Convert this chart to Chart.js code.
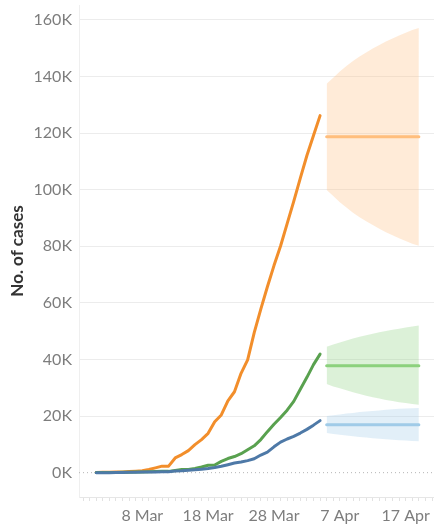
<!DOCTYPE html>
<html lang="en">
<head>
    <meta charset="UTF-8">
    <title>No. of cases</title>
    <script src="https://cdn.jsdelivr.net/npm/chart.js"></script>
    <style>
        html, body { margin: 0; padding: 0; background: #fff; }
        #wrap { width: 434px; height: 528px; }
    </style>
</head>
<body>
<div id="wrap"><canvas id="myChart"></canvas></div>
<script>
    // day 0 = 1 Mar, values in thousands of cases
    var firstDay = 0;
    var forecastStart = 35;
    var xMin = -2.61;
    var xMax = 51.3;

    var orange = [0.08, 0.12, 0.17, 0.22, 0.26, 0.37, 0.5, 0.67, 1.1, 1.7, 2.3, 2.3, 5.2, 6.4, 7.8, 9.9, 11.7, 13.9, 18.0, 20.4,
        25.4, 28.6, 35.1, 39.9, 49.5, 57.8, 65.7, 73.2, 80.1, 88.0, 95.9, 104.1, 112.1, 119.2, 126.2];
    var green = [0.04, 0.04, 0.05, 0.09, 0.12, 0.16, 0.21, 0.27, 0.32, 0.38, 0.46, 0.46, 0.8, 1.1, 1.1, 1.5, 2.0, 2.6, 2.7, 4.0,
        5.0, 5.7, 6.7, 8.1, 9.5, 11.7, 14.5, 17.1, 19.5, 22.1, 25.2, 29.5, 33.7, 38.2, 41.9];
    var blue = [0.0, 0.01, 0.01, 0.02, 0.05, 0.11, 0.17, 0.2, 0.24, 0.27, 0.31, 0.31, 0.56, 0.69, 0.89, 1.06, 1.24, 1.49, 1.8, 2.26,
        2.82, 3.4, 3.74, 4.27, 4.94, 6.24, 7.28, 9.13, 10.8, 11.9, 12.8, 14.0, 15.3, 16.8, 18.4];

    // forecast, 5 Apr .. 19 Apr
    var orangeMid = [118.7, 118.7, 118.7, 118.7, 118.7, 118.7, 118.7, 118.7, 118.7, 118.7, 118.7, 118.7, 118.7, 118.7, 118.7];
    var orangeHi = [137.5, 139.6, 141.8, 143.7, 145.5, 147.1, 148.5, 149.9, 151.2, 152.4, 153.5, 154.5, 155.5, 156.5, 157.2];
    var orangeLo = [99.9, 97.8, 95.6, 93.7, 91.9, 90.3, 88.9, 87.5, 86.2, 85.0, 83.9, 82.9, 81.9, 80.9, 80.2];
    var greenMid = [37.8, 37.8, 37.8, 37.8, 37.8, 37.8, 37.8, 37.8, 37.8, 37.8, 37.8, 37.8, 37.8, 37.8, 37.8];
    var greenHi = [44.5, 45.3, 46.0, 46.7, 47.4, 48.0, 48.6, 49.1, 49.6, 50.1, 50.5, 50.9, 51.3, 51.7, 52.0];
    var greenLo = [31.3, 30.5, 29.8, 29.1, 28.4, 27.8, 27.2, 26.7, 26.2, 25.7, 25.3, 24.9, 24.6, 24.3, 24.0];
    var blueMid = [16.9, 16.9, 16.9, 16.9, 16.9, 16.9, 16.9, 16.9, 16.9, 16.9, 16.9, 16.9, 16.9, 16.9, 16.9];
    var blueHi = [20.0, 20.3, 20.6, 20.9, 21.1, 21.4, 21.6, 21.8, 22.0, 22.2, 22.4, 22.6, 22.7, 22.8, 22.9];
    var blueLo = [14.0, 13.7, 13.4, 13.1, 12.9, 12.6, 12.4, 12.2, 12.0, 11.8, 11.6, 11.5, 11.4, 11.2, 11.1];

    var yTicks = [0, 20, 40, 60, 80, 100, 120, 140, 160];
    var xTickDays = [7, 17, 27, 37, 47];
    var xTickLabels = ['8 Mar', '18 Mar', '28 Mar', '7 Apr', '17 Apr'];

    function pts(values, start) {
        return values.map(function (v, i) {
            return {x: start + i, y: v};
        });
    }

    function line(data, color, order) {
        return {data: data, borderColor: color, borderWidth: 3, pointRadius: 0,
            fill: false, tension: 0, borderCapStyle: 'round', borderJoinStyle: 'round', order: order};
    }

    function bandTop(data, fillColor) {
        return {data: data, borderWidth: 0, borderColor: 'rgba(0,0,0,0)', pointRadius: 0,
            fill: '+1', backgroundColor: fillColor, tension: 0, order: 20};
    }

    function bandBottom(data) {
        return {data: data, borderWidth: 0, borderColor: 'rgba(0,0,0,0)', pointRadius: 0,
            fill: false, tension: 0, order: 21};
    }

    var ctx = document.getElementById('myChart').getContext('2d');
    var chart = new Chart(ctx, {
        type: 'line',
        data: {
            datasets: [
                bandTop(pts(orangeHi, forecastStart), 'rgba(255,190,125,0.3)'),
                bandBottom(pts(orangeLo, forecastStart)),
                bandTop(pts(greenHi, forecastStart), 'rgba(140,209,125,0.3)'),
                bandBottom(pts(greenLo, forecastStart)),
                bandTop(pts(blueHi, forecastStart), 'rgba(160,203,232,0.3)'),
                bandBottom(pts(blueLo, forecastStart)),
                {data: [{x: xMin, y: 0}, {x: xMax, y: 0}], borderColor: '#b5b5b5', borderWidth: 1,
                    borderDash: [1, 3], pointRadius: 0, fill: false, order: 15},
                line(pts(orangeMid, forecastStart), '#ffbe7d', 9),
                line(pts(greenMid, forecastStart), '#8cd17d', 8),
                line(pts(blueMid, forecastStart), '#a0cbe8', 7),
                line(pts(orange, firstDay), '#f28e2b', 3),
                line(pts(green, firstDay), '#59a14f', 2),
                line(pts(blue, firstDay), '#4e79a7', 1)
            ]
        },
        options: {
            responsive: true,
            maintainAspectRatio: false,
            animation: false,
            layout: {padding: {top: 5, right: 0, left: 0, bottom: 0}},
            plugins: {legend: {display: false}, tooltip: {enabled: false}},
            scales: {
                x: {
                    type: 'linear',
                    min: xMin,
                    max: xMax,
                    afterBuildTicks: function (scale) {
                        var t = [];
                        for (var d = -2; d <= 51; d++) t.push({value: d});
                        scale.ticks = t;
                    },
                    afterFit: function (scale) {
                        scale.height = 31;
                        scale.paddingLeft = 0;
                        scale.paddingRight = 0;
                    },
                    ticks: {
                        autoSkip: false,
                        maxRotation: 0,
                        padding: 5,
                        color: '#7d7d7d',
                        font: {family: 'Lato', size: 16},
                        callback: function (value) {
                            var i = xTickDays.indexOf(value);
                            return i >= 0 ? xTickLabels[i] : '';
                        }
                    },
                    grid: {drawOnChartArea: false, drawTicks: true, tickLength: 4, tickColor: '#e2e2e2'},
                    border: {display: true, color: '#e6e6e6'}
                },
                y: {
                    min: -8.6,
                    max: 165.3,
                    afterBuildTicks: function (scale) {
                        scale.ticks = yTicks.map(function (v) {
                            return {value: v};
                        });
                    },
                    afterFit: function (scale) {
                        scale.width = 79;
                        scale.paddingTop = 0;
                        scale.paddingBottom = 0;
                    },
                    ticks: {
                        padding: 7,
                        color: '#7d7d7d',
                        font: {family: 'Lato', size: 16},
                        callback: function (value) {
                            return value + 'K';
                        }
                    },
                    grid: {
                        drawTicks: false,
                        color: function (c) {
                            return c.tick && c.tick.value === 0 ? 'rgba(0,0,0,0)' : '#ececec';
                        }
                    },
                    border: {display: true, color: '#efefef'},
                    title: {
                        display: true,
                        text: 'No. of cases',
                        color: '#333',
                        font: {family: 'Lato', size: 17, weight: 'bold'},
                        padding: {top: 7, bottom: 0}
                    }
                }
            }
        }
    });
</script>
</body>
</html>
